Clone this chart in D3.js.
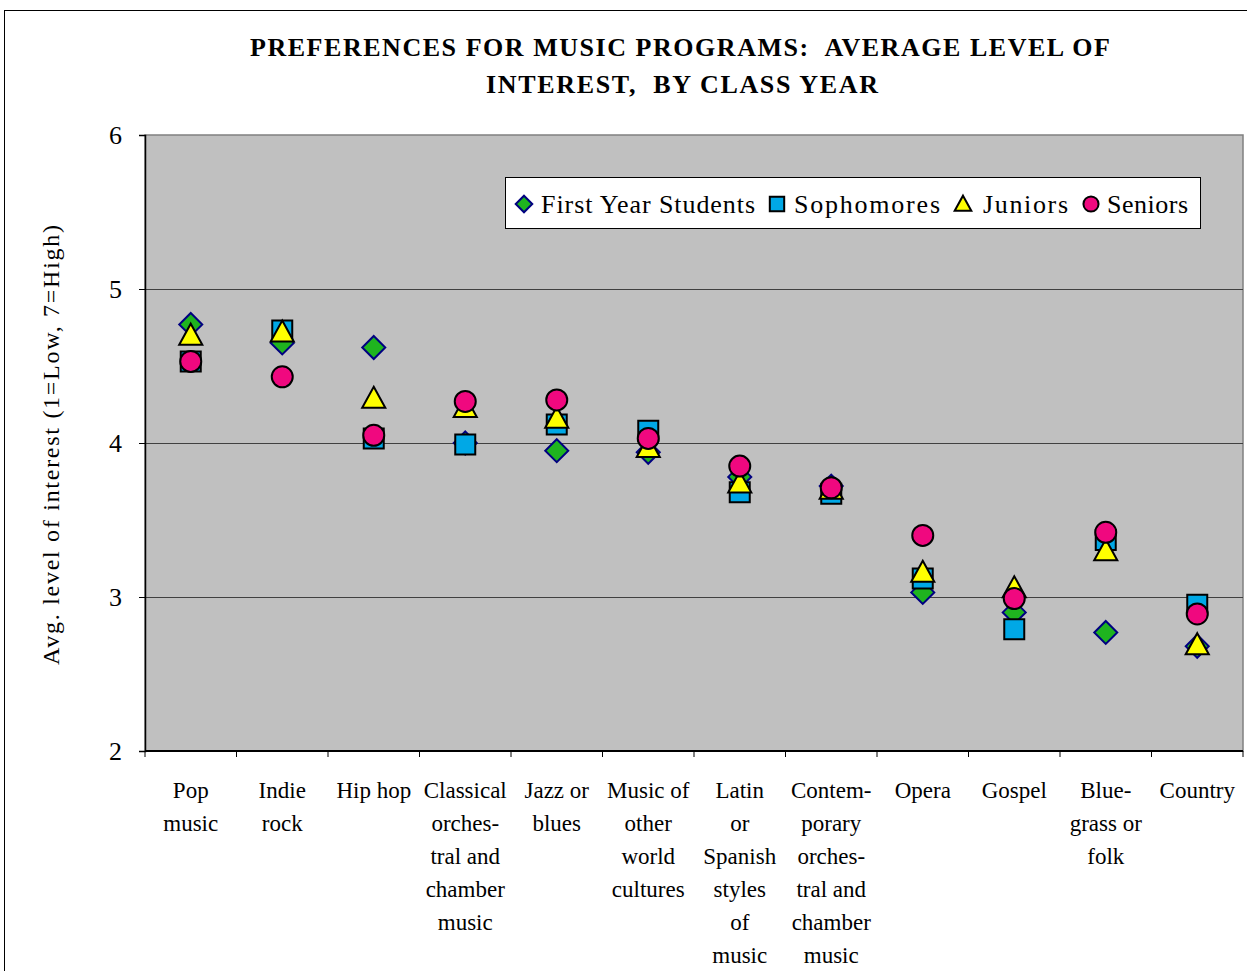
<!DOCTYPE html>
<html>
<head>
<meta charset="utf-8">
<script src="https://cdn.jsdelivr.net/npm/d3@7"></script>
<style>
  html, body { margin: 0; padding: 0; background: #fff; }
  svg { display: block; }
  text { font-family: "Liberation Serif", "Times New Roman", serif; fill: #000; white-space: pre; }
</style>
</head>
<body>
<svg id="chart" width="1247" height="971"></svg>
<script>
// Music genres, with the line breaks used for their axis labels
const categories = [
  "Pop\nmusic",
  "Indie\nrock",
  "Hip hop",
  "Classical\norches-\ntral and\nchamber\nmusic",
  "Jazz or\nblues",
  "Music of\nother\nworld\ncultures",
  "Latin\nor\nSpanish\nstyles\nof\nmusic",
  "Contem-\nporary\norches-\ntral and\nchamber\nmusic",
  "Opera",
  "Gospel",
  "Blue-\ngrass or\nfolk",
  "Country"
];

// Average interest (1 = low, 7 = high) by class year
const firstYear  = [4.77, 4.65, 4.62, 4.00, 3.95, 3.94, 3.78, 3.72, 3.03, 2.90, 2.77, 2.68];
const sophomores = [4.53, 4.73, 4.03, 3.99, 4.12, 4.08, 3.68, 3.67, 3.12, 2.79, 3.37, 2.95];
const juniors    = [4.70, 4.72, 4.29, 4.23, 4.16, 3.97, 3.74, 3.70, 3.16, 3.06, 3.30, 2.69];
const seniors    = [4.53, 4.43, 4.05, 4.27, 4.28, 4.03, 3.85, 3.71, 3.40, 2.99, 3.42, 2.89];

const seriesNames = ["First Year Students", "Sophomores", "Juniors", "Seniors"];
const yTicks = [2, 3, 4, 5, 6];

const title1 = "PREFERENCES FOR MUSIC PROGRAMS:  AVERAGE LEVEL OF";
const title2 = "INTEREST,  BY CLASS YEAR";
const yTitle = "Avg. level of interest (1=Low, 7=High)";

const series = [
  { name: seriesNames[0], values: firstYear,  shape: "diamond",  fill: "#1fb41f", stroke: "#000080" },
  { name: seriesNames[1], values: sophomores, shape: "square",   fill: "#00a8e6", stroke: "#000" },
  { name: seriesNames[2], values: juniors,    shape: "triangle", fill: "#ffff00", stroke: "#000" },
  { name: seriesNames[3], values: seniors,    shape: "circle",   fill: "#f0087f", stroke: "#000" }
];

const svg = d3.select("#chart");
const plot = { left: 145, top: 135, right: 1243, bottom: 751 };

// outer chart frame
svg.append("rect")
  .attr("x", 4.5).attr("y", 10.5)
  .attr("width", 1300).attr("height", 1100)
  .attr("fill", "#fff").attr("stroke", "#000").attr("stroke-width", 1);

const x = d3.scaleBand()
  .domain(d3.range(categories.length))
  .range([plot.left, plot.right])
  .padding(0);

const y = d3.scaleLinear()
  .domain([2, 6])
  .range([plot.bottom, plot.top]);

// plot background
svg.append("rect")
  .attr("x", plot.left).attr("y", plot.top)
  .attr("width", plot.right - plot.left).attr("height", plot.bottom - plot.top)
  .attr("fill", "#c0c0c0")
  .attr("stroke", "#808080").attr("stroke-width", 1.5);

// horizontal gridlines
svg.append("g")
  .selectAll("line")
  .data(yTicks.filter(t => t > 2 && t < 6))
  .join("line")
  .attr("x1", plot.left).attr("x2", plot.right)
  .attr("y1", d => Math.round(y(d)) + 0.5).attr("y2", d => Math.round(y(d)) + 0.5)
  .attr("stroke", "#404040").attr("stroke-width", 1);

// y axis
const yAxis = svg.append("g")
  .attr("transform", `translate(${plot.left},0)`)
  .call(d3.axisLeft(y).tickValues(yTicks).tickSize(6).tickPadding(17).tickFormat(d3.format("d")));
yAxis.select(".domain").attr("stroke", "#000").attr("stroke-width", 1.5);
yAxis.selectAll(".tick line").attr("stroke", "#000");
yAxis.selectAll(".tick text")
  .style("font-family", '"Liberation Serif", serif')
  .style("font-size", "26px").attr("fill", "#000");

// x axis line and boundary ticks
const bounds = d3.range(categories.length + 1).map(i => i < categories.length ? x(i) : plot.right);
svg.append("line")
  .attr("x1", plot.left).attr("x2", plot.right)
  .attr("y1", plot.bottom).attr("y2", plot.bottom)
  .attr("stroke", "#000").attr("stroke-width", 2);
svg.append("g").selectAll("line")
  .data(bounds)
  .join("line")
  .attr("x1", d => d).attr("x2", d => d)
  .attr("y1", plot.bottom).attr("y2", plot.bottom + 6)
  .attr("stroke", "#000").attr("stroke-width", 1);

// category labels
const catG = svg.append("g");
categories.forEach((c, i) => {
  const t = catG.append("text")
    .attr("x", x(i) + x.bandwidth() / 2)
    .attr("y", 798)
    .attr("text-anchor", "middle")
    .style("font-size", "23px");
  c.split("\n").forEach((line, k) => {
    t.append("tspan")
      .attr("x", x(i) + x.bandwidth() / 2)
      .attr("dy", k === 0 ? 0 : 33)
      .text(line);
  });
});

// y axis title
svg.append("text")
  .attr("transform", `translate(59,445) rotate(-90)`)
  .attr("text-anchor", "middle")
  .attr("textLength", 440).attr("lengthAdjust", "spacing")
  .style("font-size", "24px")
  .text(yTitle);

// title
svg.append("text")
  .attr("x", 250).attr("y", 56)
  .attr("textLength", 860).attr("lengthAdjust", "spacing")
  .style("font-size", "26px").style("font-weight", "bold")
  .text(title1);
svg.append("text")
  .attr("x", 486).attr("y", 93)
  .attr("textLength", 392).attr("lengthAdjust", "spacing")
  .style("font-size", "26px").style("font-weight", "bold")
  .text(title2);

// marker shapes
function shapePath(shape, s) {
  if (shape === "diamond") return `M0,${-s}L${s},0L0,${s}L${-s},0Z`;
  if (shape === "square") return `M${-s},${-s}H${s}V${s}H${-s}Z`;
  if (shape === "triangle") return `M0,${-s * 1.1}L${s * 1.1},${s * 0.9}L${-s * 1.1},${s * 0.9}Z`;
  return null;
}
function drawMarker(g, sr, cx, cy, scale) {
  const k = scale || 1;
  if (sr.shape === "circle") {
    g.append("circle").attr("cx", cx).attr("cy", cy).attr("r", 10.5 * k)
      .attr("fill", sr.fill).attr("stroke", sr.stroke).attr("stroke-width", 2);
  } else {
    const size = sr.shape === "diamond" ? 11.5 : sr.shape === "square" ? 10 : 10.5;
    g.append("path").attr("transform", `translate(${cx},${cy})`)
      .attr("d", shapePath(sr.shape, size * k))
      .attr("fill", sr.fill)
      .attr("stroke", sr.stroke)
      .attr("stroke-width", 2)
      .attr("stroke-linejoin", "miter");
  }
}

// data points
const pts = svg.append("g");
series.forEach(sr => {
  sr.values.forEach((v, i) => {
    drawMarker(pts, sr, x(i) + x.bandwidth() / 2, y(v));
  });
});

// legend
const leg = svg.append("g");
leg.append("rect")
  .attr("x", 505.5).attr("y", 177.5).attr("width", 695).attr("height", 51)
  .attr("fill", "#fff").attr("stroke", "#000").attr("stroke-width", 1);
const legendItems = [
  { sx: 524, tx: 541, w: 214 },
  { sx: 777, tx: 794, w: 146 },
  { sx: 963, tx: 983, w: 85 },
  { sx: 1091, tx: 1107, w: 81 }
];
series.forEach((sr, i) => {
  drawMarker(leg, sr, legendItems[i].sx, 204, 0.72);
  leg.append("text")
    .attr("x", legendItems[i].tx).attr("y", 213)
    .attr("textLength", legendItems[i].w).attr("lengthAdjust", "spacing")
    .style("font-size", "26px")
    .text(sr.name);
});
</script>
</body>
</html>
